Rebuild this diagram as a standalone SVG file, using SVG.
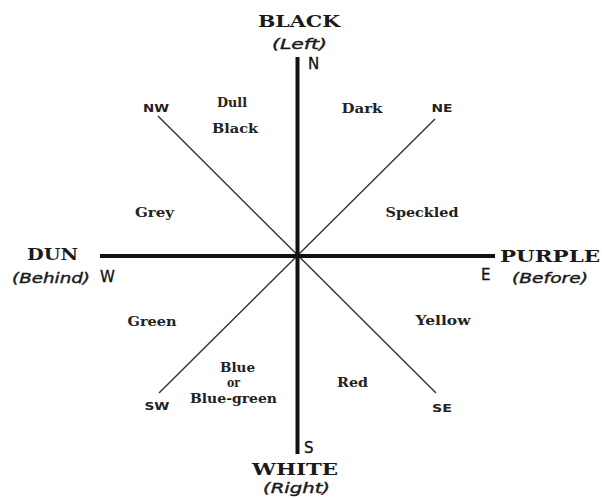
<svg xmlns="http://www.w3.org/2000/svg" width="602" height="498" viewBox="0 0 602 498">
<style>
.bg{fill:#fff}
.main{stroke:#111;stroke-width:4;fill:none}
.diag{stroke:#333;stroke-width:1.4;fill:none}
.cap{font-family:"DejaVu Serif","Liberation Serif",serif;font-size:16px;font-weight:bold;fill:#1a1a1a;text-anchor:middle}
.ital{font-family:"DejaVu Sans","Liberation Sans",sans-serif;font-size:14px;font-style:italic;fill:#1a1a1a;stroke:#1a1a1a;stroke-width:0.4;text-anchor:middle}
.dir{font-family:"DejaVu Sans","Liberation Sans",sans-serif;font-size:15px;fill:#111;stroke:#111;stroke-width:0.3}
.sub{font-family:"DejaVu Sans","Liberation Sans",sans-serif;font-size:10px;font-weight:bold;fill:#222;text-anchor:middle}
.col{font-family:"DejaVu Serif","Liberation Serif",serif;font-size:12.5px;font-weight:bold;fill:#222;text-anchor:middle}
</style>
<rect class="bg" x="0" y="0" width="602" height="498"/>
<g id="connectors">
<line class="diag" x1="158" y1="116" x2="436" y2="393"/>
<line class="diag" x1="435" y1="119" x2="159" y2="393"/>
<line class="main" x1="297.5" y1="57" x2="297.5" y2="454"/>
<line class="main" x1="100" y1="256" x2="495" y2="256"/>
</g>
<g id="north">
<text class="cap" x="299" y="27" textLength="82" lengthAdjust="spacingAndGlyphs">BLACK</text>
<text class="ital" x="299.5" y="49" textLength="55" lengthAdjust="spacingAndGlyphs">(Left)</text>
<text class="dir" x="308" y="69">N</text>
</g>
<g id="west">
<text class="cap" x="52.5" y="260" textLength="51" lengthAdjust="spacingAndGlyphs">DUN</text>
<text class="ital" x="51" y="283" textLength="78" lengthAdjust="spacingAndGlyphs">(Behind)</text>
<text class="dir" x="100" y="282">W</text>
</g>
<g id="east">
<text class="cap" x="550" y="262" textLength="100" lengthAdjust="spacingAndGlyphs">PURPLE</text>
<text class="dir" x="481" y="280">E</text>
<text class="ital" x="550" y="283" textLength="76" lengthAdjust="spacingAndGlyphs">(Before)</text>
</g>
<g id="south">
<text class="dir" x="304" y="453">S</text>
<text class="cap" x="295" y="475" textLength="86" lengthAdjust="spacingAndGlyphs">WHITE</text>
<text class="ital" x="296.5" y="493" textLength="67" lengthAdjust="spacingAndGlyphs">(Right)</text>
</g>
<g id="nw"><text class="sub" x="156" y="112" textLength="26" lengthAdjust="spacingAndGlyphs">NW</text></g>
<g id="ne"><text class="sub" x="442" y="112" textLength="21" lengthAdjust="spacingAndGlyphs">NE</text></g>
<g id="sw"><text class="sub" x="157" y="410" textLength="25" lengthAdjust="spacingAndGlyphs">SW</text></g>
<g id="se"><text class="sub" x="442" y="412" textLength="20" lengthAdjust="spacingAndGlyphs">SE</text></g>
<g id="dull-black">
<text class="col" x="232" y="107" textLength="30" lengthAdjust="spacingAndGlyphs">Dull</text>
<text class="col" x="235" y="133" textLength="46" lengthAdjust="spacingAndGlyphs">Black</text>
</g>
<g id="dark"><text class="col" x="362" y="113" textLength="41" lengthAdjust="spacingAndGlyphs">Dark</text></g>
<g id="grey"><text class="col" x="154.5" y="217" textLength="39" lengthAdjust="spacingAndGlyphs">Grey</text></g>
<g id="speckled"><text class="col" x="422" y="217" textLength="73" lengthAdjust="spacingAndGlyphs">Speckled</text></g>
<g id="green"><text class="col" x="152" y="326" textLength="49" lengthAdjust="spacingAndGlyphs">Green</text></g>
<g id="yellow"><text class="col" x="443" y="325" textLength="55" lengthAdjust="spacingAndGlyphs">Yellow</text></g>
<g id="blue">
<text class="col" x="237.5" y="372" textLength="35" lengthAdjust="spacingAndGlyphs">Blue</text>
<text class="col" x="233.5" y="387" textLength="13" lengthAdjust="spacingAndGlyphs">or</text>
<text class="col" x="233.5" y="403" textLength="87" lengthAdjust="spacingAndGlyphs">Blue-green</text>
</g>
<g id="red"><text class="col" x="352.5" y="387" textLength="31" lengthAdjust="spacingAndGlyphs">Red</text></g>
</svg>
